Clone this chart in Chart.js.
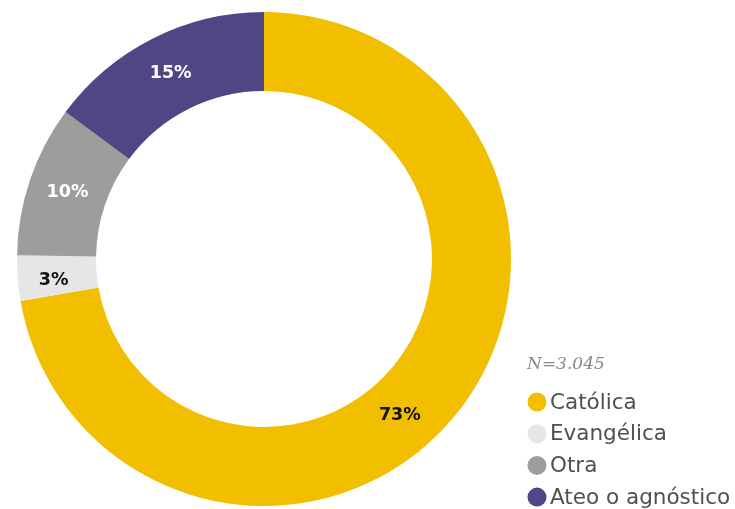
<!DOCTYPE html>
<html>
<head>
<meta charset="utf-8">
<script src="https://cdn.jsdelivr.net/npm/chart.js@4"></script>
<style>
  html, body { margin: 0; padding: 0; background: #fff; }
  #wrap { width: 735px; height: 509px; }
</style>
</head>
<body>
<div id="wrap"><canvas id="donutChart" width="735" height="509"></canvas></div>
<script>
const categories = ["Católica", "Evangélica", "Otra", "Ateo o agnóstico"];
const shares = [73, 3, 10, 15];
const shareLabels = ["73%", "3%", "10%", "15%"];
const sampleNote = "N=3.045";

const sliceColors = ["#f2bf00", "#e6e6e6", "#9d9d9c", "#514685"];
const labelColors = ["#111", "#111", "#fff", "#fff"];
const labelShift = [9, -1.5, 0, 0]; // degrees, nudges label along the ring

// percentage labels inside the ring
const sliceLabels = {
  id: "sliceLabels",
  afterDatasetsDraw(chart) {
    const ctx = chart.ctx;
    const meta = chart.getDatasetMeta(0);
    ctx.save();
    ctx.font = "bold 17.5px 'DejaVu Sans'";
    ctx.textAlign = "center";
    ctx.textBaseline = "middle";
    meta.data.forEach((arc, i) => {
      const p = arc.getProps(["x", "y", "startAngle", "endAngle", "innerRadius", "outerRadius"], true);
      const a = (p.startAngle + p.endAngle) / 2 + labelShift[i] * Math.PI / 180;
      const r = (p.innerRadius + p.outerRadius) / 2 + (i === 1 ? 4 : 0);
      ctx.fillStyle = labelColors[i];
      ctx.fillText(shareLabels[i], p.x + r * Math.cos(a), p.y + r * Math.sin(a));
    });
    ctx.restore();
  }
};

// legend block in the lower right corner
const cornerLegend = {
  id: "cornerLegend",
  afterDraw(chart) {
    const ctx = chart.ctx;
    ctx.save();
    ctx.font = "italic 17px 'DejaVu Serif'";
    ctx.fillStyle = "#888";
    ctx.textBaseline = "middle";
    ctx.fillText(sampleNote, 527, 365);
    ctx.font = "21.5px 'DejaVu Sans'";
    chart.data.labels.forEach((lab, i) => {
      const y = 402 + i * 31.7;
      ctx.beginPath();
      ctx.arc(537, y, 9.5, 0, Math.PI * 2);
      ctx.fillStyle = sliceColors[i];
      ctx.fill();
      ctx.fillStyle = "#505050";
      ctx.fillText(lab, 550, y + 1);
    });
    ctx.restore();
  }
};

new Chart(document.getElementById("donutChart").getContext("2d"), {
  type: "doughnut",
  data: {
    labels: categories,
    datasets: [{
      data: shares,
      backgroundColor: sliceColors,
      borderWidth: 0
    }]
  },
  options: {
    responsive: false,
    animation: false,
    cutout: "68%",
    layout: { padding: { left: 17, top: 12, right: 224, bottom: 3 } },
    plugins: {
      legend: { display: false },
      tooltip: { enabled: false }
    }
  },
  plugins: [sliceLabels, cornerLegend]
});
</script>
</body>
</html>
